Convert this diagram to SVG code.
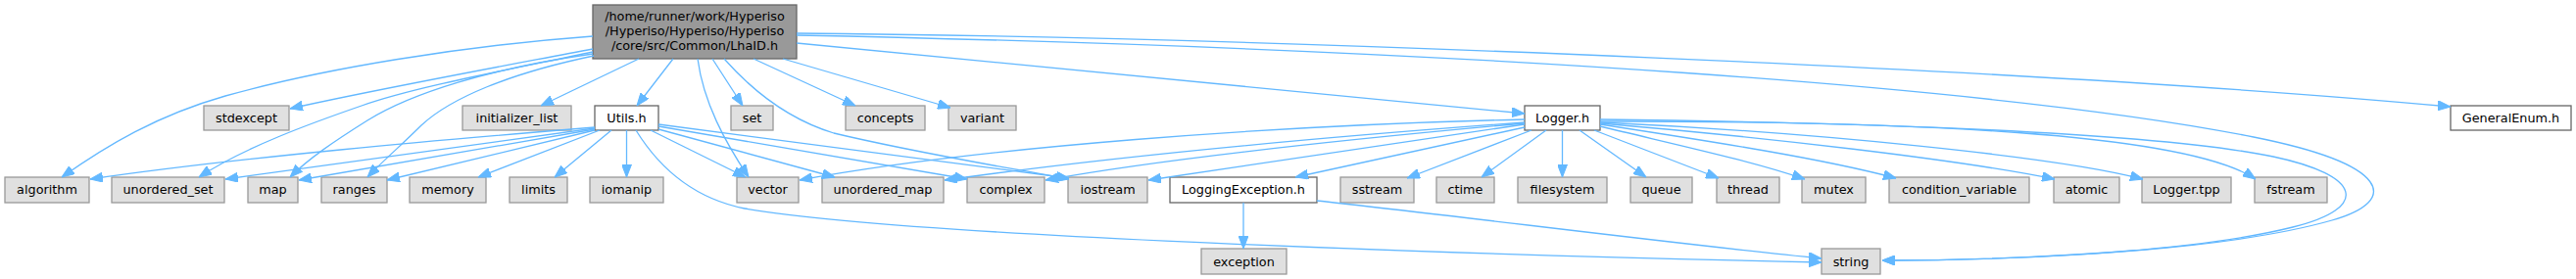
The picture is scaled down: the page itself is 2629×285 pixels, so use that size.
<svg xmlns="http://www.w3.org/2000/svg" width="2629" height="285" viewBox="0 0 2629 285">
<style>
text{font-family:"DejaVu Sans","Liberation Sans",sans-serif;font-size:12.8px;fill:#000;text-anchor:middle}
.m{fill:#999999;stroke:#666666;stroke-width:1.3}
.w{fill:#ffffff;stroke:#666666;stroke-width:1.3}
.g{fill:#e0e0e0;stroke:#999999;stroke-width:1.3}
#edges path{fill:none;stroke:#63b8ff;stroke-width:1.3;marker-end:url(#ah)}
</style>
<defs>
<marker id="ah" viewBox="0 0 13 10" refX="13" refY="5" markerWidth="13" markerHeight="10" markerUnits="userSpaceOnUse" orient="auto"><path d="M0,0 L13,5 L0,10 z" fill="#63b8ff" stroke="#63b8ff" stroke-width="1"/></marker>
</defs>
<rect width="2629" height="285" fill="#ffffff"/>
<g id="n-main"><rect class="m" x="605" y="5" width="208" height="55"/><text x="709" y="21">/home/runner/work/Hyperiso</text><text x="709" y="36">/Hyperiso/Hyperiso/Hyperiso</text><text x="709" y="51">/core/src/Common/LhaID.h</text></g>
<g id="n-stdexcept"><rect class="g" x="208" y="108" width="87" height="25"/><text x="251.5" y="124.5">stdexcept</text></g>
<g id="n-initializer_list"><rect class="g" x="472" y="108" width="111" height="25"/><text x="527.5" y="124.5">initializer_list</text></g>
<g id="n-utils"><rect class="w" x="607" y="108" width="65" height="25"/><text x="639.5" y="124.5">Utils.h</text></g>
<g id="n-set"><rect class="g" x="746" y="108" width="43" height="25"/><text x="767.5" y="124.5">set</text></g>
<g id="n-concepts"><rect class="g" x="863" y="108" width="81" height="25"/><text x="903.5" y="124.5">concepts</text></g>
<g id="n-variant"><rect class="g" x="968" y="108" width="69" height="25"/><text x="1002.5" y="124.5">variant</text></g>
<g id="n-logger"><rect class="w" x="1556" y="108" width="77" height="25"/><text x="1594.5" y="124.5">Logger.h</text></g>
<g id="n-generalenum"><rect class="w" x="2501" y="108" width="123" height="25"/><text x="2562.5" y="124.5">GeneralEnum.h</text></g>
<g id="n-algorithm"><rect class="g" x="5" y="181" width="86" height="26"/><text x="48" y="198">algorithm</text></g>
<g id="n-unordered_set"><rect class="g" x="114" y="181" width="115" height="26"/><text x="171.5" y="198">unordered_set</text></g>
<g id="n-map"><rect class="g" x="253" y="181" width="51" height="26"/><text x="278.5" y="198">map</text></g>
<g id="n-ranges"><rect class="g" x="328" y="181" width="67" height="26"/><text x="361.5" y="198">ranges</text></g>
<g id="n-memory"><rect class="g" x="418" y="181" width="78" height="26"/><text x="457" y="198">memory</text></g>
<g id="n-limits"><rect class="g" x="520" y="181" width="59" height="26"/><text x="549.5" y="198">limits</text></g>
<g id="n-iomanip"><rect class="g" x="602" y="181" width="75" height="26"/><text x="639.5" y="198">iomanip</text></g>
<g id="n-vector"><rect class="g" x="752" y="181" width="63" height="26"/><text x="783.5" y="198">vector</text></g>
<g id="n-unordered_map"><rect class="g" x="839" y="181" width="124" height="26"/><text x="901" y="198">unordered_map</text></g>
<g id="n-complex"><rect class="g" x="987" y="181" width="79" height="26"/><text x="1026.5" y="198">complex</text></g>
<g id="n-iostream"><rect class="g" x="1090" y="181" width="81" height="26"/><text x="1130.5" y="198">iostream</text></g>
<g id="n-loggingexception"><rect class="w" x="1194" y="181" width="150" height="26"/><text x="1269" y="198">LoggingException.h</text></g>
<g id="n-sstream"><rect class="g" x="1368" y="181" width="75" height="26"/><text x="1405.5" y="198">sstream</text></g>
<g id="n-ctime"><rect class="g" x="1466" y="181" width="59" height="26"/><text x="1495.5" y="198">ctime</text></g>
<g id="n-filesystem"><rect class="g" x="1549" y="181" width="91" height="26"/><text x="1594.5" y="198">filesystem</text></g>
<g id="n-queue"><rect class="g" x="1664" y="181" width="63" height="26"/><text x="1695.5" y="198">queue</text></g>
<g id="n-thread"><rect class="g" x="1752" y="181" width="64" height="26"/><text x="1784" y="198">thread</text></g>
<g id="n-mutex"><rect class="g" x="1839" y="181" width="65" height="26"/><text x="1871.5" y="198">mutex</text></g>
<g id="n-condition_variable"><rect class="g" x="1928" y="181" width="143" height="26"/><text x="1999.5" y="198">condition_variable</text></g>
<g id="n-atomic"><rect class="g" x="2096" y="181" width="67" height="26"/><text x="2129.5" y="198">atomic</text></g>
<g id="n-loggertpp"><rect class="g" x="2186" y="181" width="91" height="26"/><text x="2231.5" y="198">Logger.tpp</text></g>
<g id="n-fstream"><rect class="g" x="2301" y="181" width="74" height="26"/><text x="2338" y="198">fstream</text></g>
<g id="n-exception"><rect class="g" x="1226" y="254" width="87" height="26"/><text x="1269.5" y="271.5">exception</text></g>
<g id="n-string"><rect class="g" x="1859" y="254" width="60" height="26"/><text x="1889" y="271.5">string</text></g>
<g id="edges">
<path d="M605,37 C470,47 330,70 230,98 C160,118 110,148 63,181"/>
<path d="M605,50 C500,70 380,92 296,111"/>
<path d="M605,53 C500,75 420,90 369,108 C320,125 250,150 203,181"/>
<path d="M605,55 C500,70 420,95 375,123 C340,145 315,162 296,181"/>
<path d="M606,57 C520,75 460,100 430,128 C410,148 390,165 375,181"/>
<path d="M652,60 L552,108"/>
<path d="M687,60 L650,108"/>
<path d="M712,60 C718,105 740,145 764,181"/>
<path d="M727,60 L758,108"/>
<path d="M739,60 C770,95 805,122 851,136 C930,155 1010,168 1091,183"/>
<path d="M769,60 L873,108"/>
<path d="M799,60 L970,110"/>
<path d="M813,44 L1556,116"/>
<path d="M813,34 C1300,38 2100,72 2501,109"/>
<path d="M813,36 C1500,50 2050,90 2300,140 C2440,168 2450,205 2380,225 C2250,262 2000,266 1921,266"/>
<path d="M1633,122 C1900,125 2200,135 2320,160 C2410,179 2420,212 2340,232 C2220,262 2000,266 1921,266"/>
<path d="M1594.5,133 L1594.5,181"/>
<path d="M1578,133 L1512,181"/>
<path d="M1612,133 L1680,181"/>
<path d="M1563,133 L1436,182"/>
<path d="M1556,130 L1322,181"/>
<path d="M1556,127 L1172,184"/>
<path d="M1556,126 C1400,140 1200,160 1067,184"/>
<path d="M1556,125 C1350,140 1150,158 964,184"/>
<path d="M1556,122 C1300,128 1000,150 816,184"/>
<path d="M1627,133 L1754,182"/>
<path d="M1633,129 C1720,150 1790,165 1842,183"/>
<path d="M1633,127 C1750,145 1860,162 1935,182"/>
<path d="M1633,126 C1800,140 2000,163 2097,183"/>
<path d="M1633,125 C1850,135 2100,160 2187,183"/>
<path d="M1633,124 C1950,124 2230,135 2302,183"/>
<path d="M1269,207 L1269,254"/>
<path d="M1344,205 C1500,222 1700,248 1859,264"/>
<path d="M607,130 C450,143 250,160 92,183"/>
<path d="M607,131 L230,183"/>
<path d="M607,132 L305,184"/>
<path d="M607,133 L395,184"/>
<path d="M612,133 L488,181"/>
<path d="M624,133 L566,181"/>
<path d="M639.5,133 L639.5,181"/>
<path d="M664,133 L761,181"/>
<path d="M672,132 L852,181"/>
<path d="M672,129 L987,183"/>
<path d="M672,127 L1091,182"/>
<path d="M649,133 C675,175 710,203 760,213 C900,238 1400,258 1859,268"/>
</g>
</svg>
